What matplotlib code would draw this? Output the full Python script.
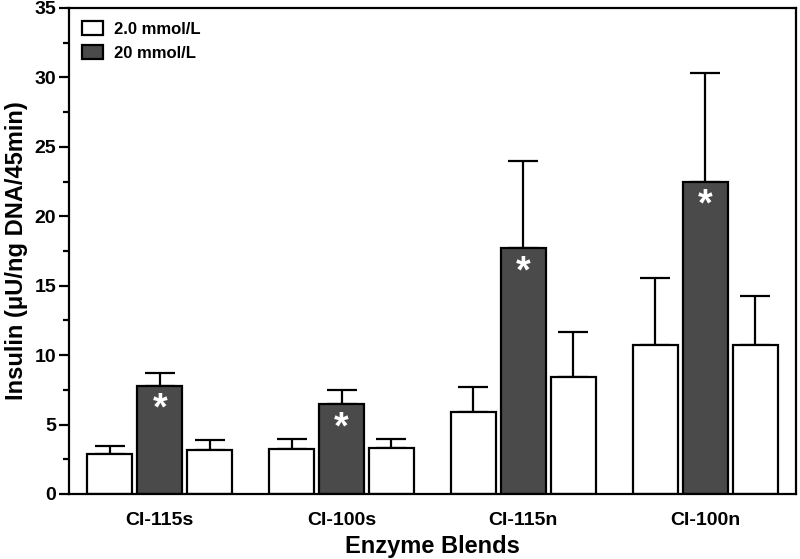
import matplotlib
matplotlib.use("Agg")
import matplotlib.pyplot as plt
from matplotlib.ticker import MultipleLocator
import numpy as np

blends = ["CI-115s", "CI-100s", "CI-115n", "CI-100n"]
# three bars per blend: 2.0 mmol/L, 20 mmol/L, 2.0 mmol/L
low_a = [2.85, 3.25, 5.87, 10.70]
low_a_err = [0.58, 0.72, 1.80, 4.84]
high = [7.75, 6.45, 17.68, 22.46]
high_err = [0.95, 1.02, 6.33, 7.85]
low_b = [3.15, 3.30, 8.41, 10.76]
low_b_err = [0.72, 0.66, 3.22, 3.52]

DARK = "#4a4a4a"

plt.rcParams.update({
    "font.family": ["Liberation Sans", "DejaVu Sans"],
    "font.weight": "bold",
})

fig = plt.figure(figsize=(8.0, 5.59), dpi=100)
ax = fig.add_axes([0.086, 0.1163, 0.909, 0.8694])

x = np.arange(len(blends))
w = 0.248
step = 0.275
series = [(low_a, low_a_err, "white", -step, "2.0 mmol/L"),
          (high, high_err, DARK, 0.0, "20 mmol/L"),
          (low_b, low_b_err, "white", step, None)]
for vals, errs, col, off, label in series:
    ax.errorbar(x + off, vals, yerr=[np.zeros(len(vals)), errs], fmt="none",
                ecolor="black", elinewidth=1.6, capsize=11, capthick=1.6,
                zorder=1)
    ax.bar(x + off, vals, w, color=col, edgecolor="black", linewidth=1.6,
           label=label, zorder=2)

for xi, v in zip(x, high):
    ax.text(xi, v - 1.7, "*", color="white", fontsize=27, fontweight="bold",
            ha="center", va="center", zorder=3)

ax.set_xlim(-0.5, 3.5)
ax.set_ylim(0, 35)
ax.set_xticks(x)
ax.set_xticklabels(blends, fontsize=14, fontweight="bold")
ax.tick_params(axis="x", length=0, pad=13)
ax.yaxis.set_major_locator(MultipleLocator(5))
ax.yaxis.set_minor_locator(MultipleLocator(2.5))
ax.tick_params(axis="y", which="major", length=7, width=1.6, labelsize=14,
               pad=2)
ax.tick_params(axis="y", which="minor", length=4, width=1.6)
for lab in ax.get_yticklabels():
    lab.set_fontweight("bold")
for sp in ax.spines.values():
    sp.set_linewidth(1.6)

ax.set_xlabel("Enzyme Blends", fontsize=17, fontweight="bold", labelpad=4)
ax.set_ylabel("Insulin (\u03bcU/ng DNA/45min)", fontsize=17,
              fontweight="bold", labelpad=5)

ax.legend(loc="upper left", frameon=False,
          handlelength=1.25, handleheight=0.9, handletextpad=0.65,
          borderaxespad=0.55, labelspacing=0.5, borderpad=0.25,
          prop={"weight": "bold", "size": 12})

fig.savefig("out.png", dpi=100)
